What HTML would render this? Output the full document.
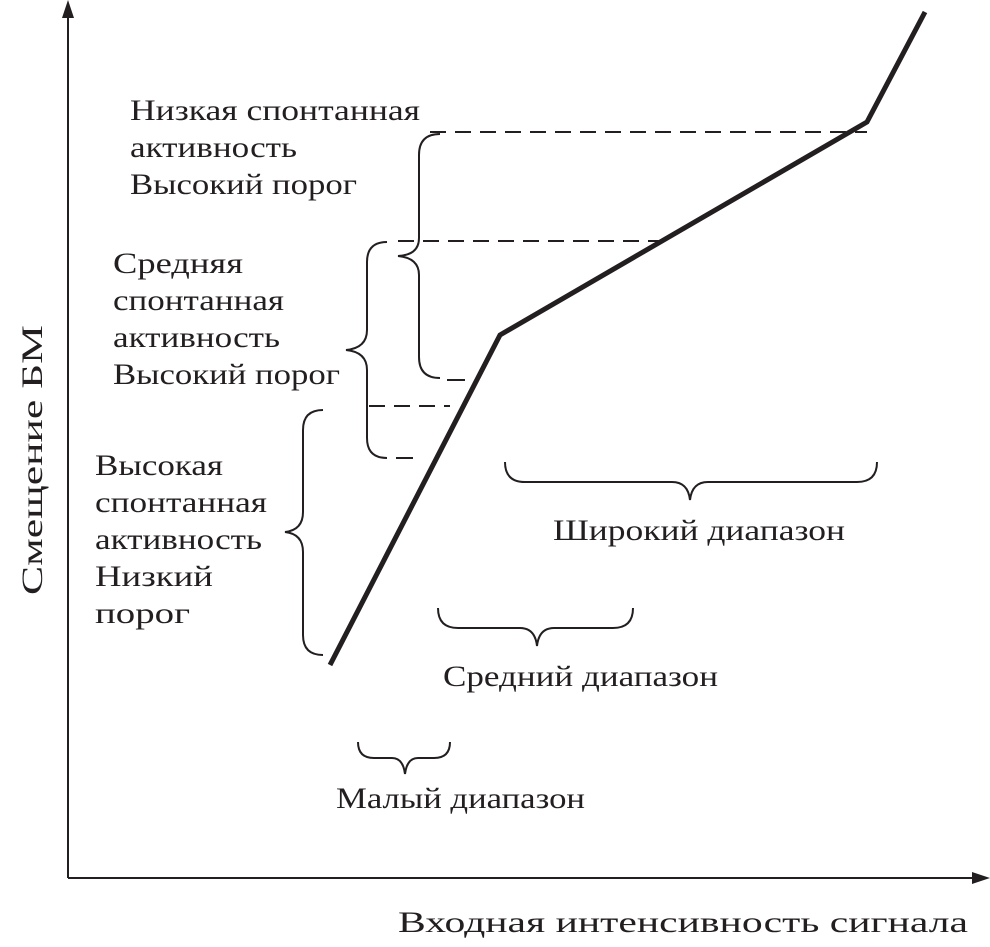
<!DOCTYPE html>
<html><head><meta charset="utf-8"><style>
html,body{margin:0;padding:0;background:#fff;}
svg{display:block}
text{font-family:"Liberation Serif",serif;fill:#231f20;font-size:30px}
</style></head><body>
<svg width="990" height="947" viewBox="0 0 990 947" xmlns="http://www.w3.org/2000/svg">
<g stroke="#231f20" fill="none">
<line x1="68" y1="878" x2="68" y2="10" stroke-width="2"/>
<line x1="68" y1="878" x2="975" y2="878" stroke-width="2"/>
<polyline points="330,665 500,335 867,122 925,12" stroke-width="5"/>
<g stroke-width="2" stroke-dasharray="16,9">
<line x1="430" y1="132" x2="867" y2="132"/>
<line x1="398" y1="241" x2="660" y2="241"/>
<line x1="369" y1="406" x2="450" y2="406"/>
</g>
<line x1="447" y1="380" x2="465" y2="380" stroke-width="2"/>
<line x1="396" y1="458" x2="413" y2="458" stroke-width="2"/>
<g stroke-width="2">
<path d="M440,134 Q419,134 419,155 L419,238 Q419,255 398,256 Q419,258 419,275 L419,357 Q419,378 440,378"/>
<path d="M387,242 Q367,242 367,262 L367,330 Q367,348 346,350 Q367,352 367,370 L367,438 Q367,458 387,458"/>
<path d="M323,410 Q303,410 303,430 L303,512 Q303,530 285,532 Q303,534 303,552 L303,635 Q303,655 323,655"/>
<path d="M505,462 Q505,482 525,482 L672,482 Q688,482 690,500 Q692,482 708,482 L857,482 Q877,482 877,462"/>
<path d="M438,608 Q438,628 458,628 L520,628 Q535,628 537,646 Q539,628 554,628 L613,628 Q633,628 633,608"/>
<path d="M358,742 Q358,758 374,758 L392,758 Q403,758 405,774 Q407,758 418,758 L434,758 Q450,758 450,742"/>
</g>
</g>
<polygon points="68,0 62,18 74,18" fill="#231f20"/>
<polygon points="990,878 972,872 972,884" fill="#231f20"/>
<g lengthAdjust="spacingAndGlyphs">
<text x="130" y="120" textLength="290" lengthAdjust="spacingAndGlyphs">Низкая спонтанная</text>
<text x="130" y="157" textLength="167" lengthAdjust="spacingAndGlyphs">активность</text>
<text x="130" y="194" textLength="227" lengthAdjust="spacingAndGlyphs">Высокий порог</text>
<text x="113" y="273" textLength="130" lengthAdjust="spacingAndGlyphs">Средняя</text>
<text x="113" y="310" textLength="171" lengthAdjust="spacingAndGlyphs">спонтанная</text>
<text x="113" y="347" textLength="167" lengthAdjust="spacingAndGlyphs">активность</text>
<text x="113" y="384" textLength="227" lengthAdjust="spacingAndGlyphs">Высокий порог</text>
<text x="95" y="475" textLength="128" lengthAdjust="spacingAndGlyphs">Высокая</text>
<text x="95" y="512" textLength="172" lengthAdjust="spacingAndGlyphs">спонтанная</text>
<text x="95" y="549" textLength="167" lengthAdjust="spacingAndGlyphs">активность</text>
<text x="95" y="586" textLength="118" lengthAdjust="spacingAndGlyphs">Низкий</text>
<text x="95" y="623" textLength="95" lengthAdjust="spacingAndGlyphs">порог</text>
<text x="553" y="540" textLength="292" lengthAdjust="spacingAndGlyphs">Широкий диапазон</text>
<text x="443" y="686" textLength="275" lengthAdjust="spacingAndGlyphs">Средний диапазон</text>
<text x="336" y="808" textLength="249" lengthAdjust="spacingAndGlyphs">Малый диапазон</text>
<text x="398" y="932" font-size="38" textLength="570" lengthAdjust="spacingAndGlyphs">Входная интенсивность сигнала</text>
<text transform="translate(42,460) rotate(-90)" x="-135" font-size="38" textLength="270" lengthAdjust="spacingAndGlyphs">Смещение БМ</text>
</g>
</svg>
</body></html>
